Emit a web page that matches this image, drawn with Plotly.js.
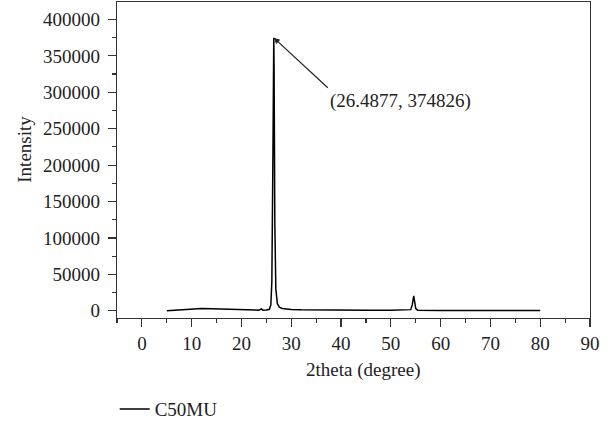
<!DOCTYPE html>
<html>
<head>
<meta charset="utf-8">
<script src="https://cdn.plot.ly/plotly-3.0.1.min.js"></script>
<style>html,body{margin:0;padding:0;background:#fff;}#chart{width:615px;height:424px;}</style>
</head>
<body>
<div id="chart"></div>
<script>
// 2theta (degree)
var twoTheta = [5, 6, 8, 10, 12, 14, 16, 18, 20, 22, 23.5, 24, 24.3, 25, 25.6, 25.9, 26.1, 26.3, 26.45, 26.4877, 26.55, 26.7, 26.9, 27.2, 27.6, 28.2, 29, 30, 32, 35, 40, 45, 50, 53, 54, 54.3, 54.5, 54.6, 54.75, 55, 55.4, 57, 60, 65, 70, 75, 80];
// Intensity
var intensity = [0, 500, 1500, 2500, 3000, 2800, 2200, 1700, 1200, 800, 700, 2500, 800, 900, 2000, 8000, 40000, 200000, 370000, 374826, 330000, 120000, 30000, 10000, 5000, 3000, 2200, 1800, 1300, 900, 600, 500, 500, 600, 1500, 8000, 19000, 20500, 14000, 3000, 800, 500, 400, 400, 300, 300, 300];
var seriesName = "C50MU";
var peakLabel = "(26.4877, 374826)";
var xTitle = "2theta (degree)";
var yTitle = "Intensity";

var FONT = "Liberation Serif, Times New Roman, serif";
var FS = 19;

var trace = {
  x: twoTheta, y: intensity, type: "scatter", mode: "lines", name: seriesName,
  line: {color: "#000", width: 1.5}
};

var axisCommon = {
  showline: true, mirror: true, linecolor: "#333", linewidth: 1.3,
  ticks: "outside", ticklen: 8, tickwidth: 1.2, tickcolor: "#333",
  showgrid: false, zeroline: false, automargin: false,
  tickfont: {family: FONT, size: FS, color: "#222"}
};

var layout = {
  width: 615, height: 424,
  margin: {l: 117, r: 25, t: 2, b: 106},
  paper_bgcolor: "#fff", plot_bgcolor: "#fff",
  font: {family: FONT, size: FS, color: "#222"},
  showlegend: true,
  legend: {xref: "container", yref: "container", x: 0.1865, xanchor: "left", y: 0.035, yanchor: "middle",
    orientation: "h",
    font: {family: FONT, size: FS, color: "#222"}, bgcolor: "rgba(0,0,0,0)"},
  xaxis: Object.assign({}, axisCommon, {
    range: [-5, 90], dtick: 10, tick0: 0, tickformat: "d",
    minor: {dtick: 5, tick0: 0, ticks: "outside", ticklen: 4, tickcolor: "#333", showgrid: false},
    title: {text: ""}
  }),
  yaxis: Object.assign({}, axisCommon, {
    range: [-10000, 424000], dtick: 50000, tick0: 0, tickformat: "d",
    minor: {dtick: 25000, tick0: 0, ticks: "outside", ticklen: 4, tickcolor: "#333", showgrid: false},
    ticklabelstandoff: 4,
    title: {text: ""}
  }),
  annotations: [
    {x: 26.4877, y: 374826, xref: "x", yref: "y", text: peakLabel, showarrow: true,
     arrowhead: 2, arrowsize: 1, arrowwidth: 1.2, arrowcolor: "#222",
     ax: 54, ay: 50, xanchor: "left", yanchor: "top",
     font: {family: FONT, size: FS, color: "#222"}},
    {x: -0.195, y: 0.535, xref: "paper", yref: "paper", text: yTitle, showarrow: false,
     textangle: -90, xanchor: "center", yanchor: "middle",
     font: {family: FONT, size: FS, color: "#222"}},
    {x: 0.52, y: -0.165, xref: "paper", yref: "paper", text: xTitle, showarrow: false,
     xanchor: "center", yanchor: "middle",
     font: {family: FONT, size: FS, color: "#222"}}
  ]
};

Plotly.newPlot("chart", [trace], layout, {displayModeBar: false, staticPlot: true});
</script>
</body>
</html>
